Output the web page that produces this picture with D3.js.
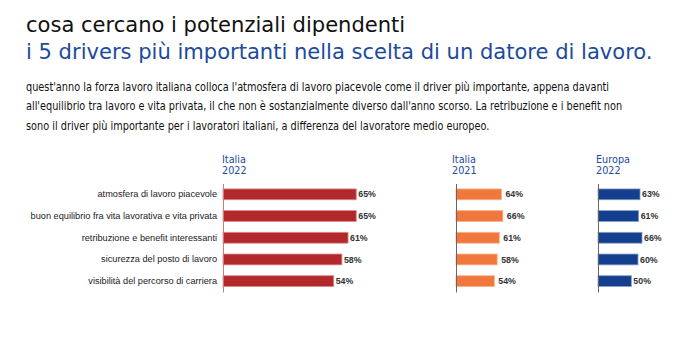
<!DOCTYPE html>
<html lang="it">
<head>
    <meta charset="UTF-8">
    <title>cosa cercano i potenziali dipendenti</title>
    <style>
        body, html {
            margin: 0;
            background-color: #fff;
        }
        svg { display: block; }
    </style>
    <script src="https://d3js.org/d3.v7.min.js"></script>
</head>
<body>
    <div id="chart"></div>
    <script>
        // data
        const categories = [
            "atmosfera di lavoro piacevole",
            "buon equilibrio fra vita lavorativa e vita privata",
            "retribuzione e benefit interessanti",
            "sicurezza del posto di lavoro",
            "visibilità del percorso di carriera"
        ];
        const italia2022 = [65, 65, 61, 58, 54];
        const italia2021 = [64, 66, 61, 58, 54];
        const europa2022 = [63, 61, 66, 60, 50];
        const panelTitles = [["Italia", "2022"], ["Italia", "2021"], ["Europa", "2022"]];

        const titleLines = [
            "cosa cercano i potenziali dipendenti",
            "i 5 drivers più importanti nella scelta di un datore di lavoro."
        ];
        const introLines = [
            "quest'anno la forza lavoro italiana colloca l'atmosfera di lavoro piacevole come il driver più importante, appena davanti",
            "all'equilibrio tra lavoro e vita privata, il che non è sostanzialmente diverso dall'anno scorso. La retribuzione e i benefit non",
            "sono il driver più importante per i lavoratori italiani, a differenza del lavoratore medio europeo."
        ];

        const width = 700, height = 339;
        const svg = d3.select("#chart").append("svg")
            .attr("width", width)
            .attr("height", height);

        // block of text lines, squeezed horizontally so that line `ref` gets width `target`
        function textBlock(lines, opt) {
            const g = svg.append("g");
            const t = g.selectAll("text")
                .data(lines)
                .enter().append("text")
                .attr("x", 0)
                .attr("y", (d, i) => opt.y + i * opt.lead)
                .attr("font-family", "DejaVu Sans, sans-serif")
                .attr("font-size", opt.size)
                .attr("fill", (d, i) => opt.fill(i))
                .text(d => d);
            const k = opt.k || opt.target / t.nodes()[opt.ref].getComputedTextLength();
            g.attr("transform", `translate(${opt.x},0) scale(${k},1)`);
            return g;
        }

        // title
        textBlock(titleLines, {
            x: 26, y: 32, lead: 27, size: 21, ref: 1, target: 627,
            fill: i => i === 0 ? "#111" : "#1c4b9b"
        });

        // intro paragraph
        textBlock(introLines, {
            x: 26, y: 91, lead: 19.5, size: 11.5, ref: 2, target: 464,
            fill: () => "#111"
        });

        // panels
        const panels = [
            { values: italia2022, x0: 223, pxPerPct: 2.05, color: "#b3282b", edge: "#d98a8a", axis: "#d27a7a", gap: 2, hx: 222 },
            { values: italia2021, x0: 456, pxPerPct: 0.71, color: "#f0783c", edge: "#f8b48f", axis: "#666", gap: 4, hx: 452 },
            { values: europa2022, x0: 598, pxPerPct: 0.667, color: "#133f8e", edge: "#8aa0c8", axis: "#666", gap: 2, hx: 596 }
        ];

        const y = d3.scaleBand()
            .domain(categories)
            .range([183.5, 292])
            .paddingInner(0.5)
            .paddingOuter(0.25);

        panels.forEach((p, pi) => {
            const x = d3.scaleLinear()
                .domain([0, 100])
                .range([p.x0, p.x0 + 100 * p.pxPerPct]);

            // header
            textBlock(panelTitles[pi], {
                x: p.hx, y: 163, lead: 11.5, size: 11, k: 0.88,
                fill: () => "#1c4b9b"
            });

            const g = svg.append("g");

            // bars
            g.append("g").selectAll("rect")
                .data(p.values)
                .enter().append("rect")
                .attr("x", x(0))
                .attr("y", (d, i) => y(categories[i]))
                .attr("width", d => x(d) - x(0))
                .attr("height", y.bandwidth())
                .attr("fill", p.color)
                .attr("stroke", p.edge)
                .attr("stroke-width", 0.8);

            // value labels
            g.append("g").selectAll("text")
                .data(p.values)
                .enter().append("text")
                .attr("x", d => x(d) + p.gap)
                .attr("y", (d, i) => y(categories[i]) + y.bandwidth() / 2)
                .attr("dy", "0.35em")
                .attr("font-family", "Liberation Sans, Arial, sans-serif")
                .attr("font-weight", "bold")
                .attr("font-size", 8.8)
                .attr("fill", "#333")
                .text(d => d + "%");

            // vertical axis
            const axis = d3.axisLeft(y)
                .tickSize(0)
                .tickPadding(6)
                .tickFormat(pi === 0 ? (d => d) : "");
            const ag = g.append("g")
                .attr("transform", `translate(${p.x0},0)`)
                .call(axis);
            ag.select(".domain").attr("stroke", p.axis).attr("stroke-width", 1);
            ag.selectAll("text")
                .attr("font-family", "Liberation Sans, Arial, sans-serif")
                .attr("font-size", 9.2)
                .attr("fill", "#222");
        });
    </script>
</body>
</html>
